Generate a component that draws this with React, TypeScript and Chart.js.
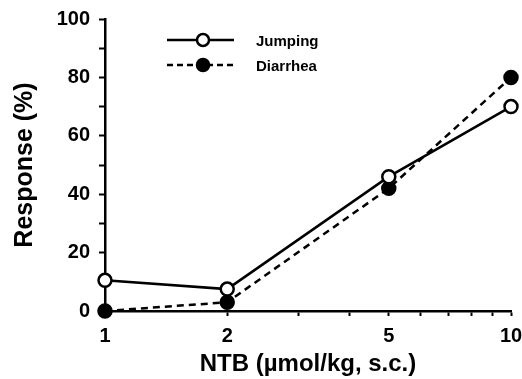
import React, { useEffect, useRef } from "react";
import { Chart, registerables } from "chart.js";

Chart.register(...registerables);

const doses = [1, 2, 5, 10];
const jumping = [10.5, 7.5, 46, 70];
const diarrhea = [0, 3, 42, 80];
const xTickValues = [1, 2, 3, 4, 5, 6, 7, 8, 9, 10];
const xTickLabels = [1, 2, 5, 10];
const yTickLabels = [0, 20, 40, 60, 80, 100];
const seriesNames = ["Jumping", "Diarrhea"];

const FONT = "'Liberation Sans', Arial, Helvetica, sans-serif";

const legendPlugin = {
  id: "customLegend",
  afterDraw(chart: any) {
    const ctx = chart.ctx;
    ctx.save();
    const items = [
      { name: seriesNames[0], y: 40, dash: [] as number[], fill: "#ffffff" },
      { name: seriesNames[1], y: 65, dash: [6, 4], fill: "#000000" },
    ];
    items.forEach((it) => {
      ctx.strokeStyle = "#000";
      ctx.lineWidth = 2.5;
      ctx.setLineDash(it.dash);
      ctx.beginPath();
      ctx.moveTo(167, it.y);
      ctx.lineTo(234, it.y);
      ctx.stroke();
      ctx.setLineDash([]);
      ctx.beginPath();
      ctx.arc(203, it.y, 6, 0, Math.PI * 2);
      ctx.fillStyle = it.fill;
      ctx.fill();
      ctx.lineWidth = 2.5;
      ctx.stroke();
      ctx.fillStyle = "#000";
      ctx.font = `bold 15px ${FONT}`;
      ctx.textBaseline = "middle";
      ctx.textAlign = "left";
      ctx.fillText(it.name, 256, it.y + 2);
    });
    ctx.restore();
  },
};

export default function App() {
  const ref = useRef<HTMLCanvasElement | null>(null);
  useEffect(() => {
    if (!ref.current) return;
    const chart = new Chart(ref.current, {
      type: "line",
      data: {
        datasets: [
          {
            label: seriesNames[0],
            data: doses.map((d, i) => ({ x: d, y: jumping[i] })),
            borderColor: "#000",
            borderWidth: 2.5,
            pointRadius: 6.5,
            pointBorderWidth: 2.5,
            pointBackgroundColor: "#fff",
            pointBorderColor: "#000",
            tension: 0,
            clip: false as any,
          },
          {
            label: seriesNames[1],
            data: doses.map((d, i) => ({ x: d, y: diarrhea[i] })),
            borderColor: "#000",
            borderWidth: 2.5,
            borderDash: [7, 5],
            pointRadius: 6.5,
            pointBorderWidth: 2.5,
            pointBackgroundColor: "#000",
            pointBorderColor: "#000",
            tension: 0,
            clip: false as any,
          },
        ],
      },
      options: {
        animation: false,
        responsive: false,
        layout: { padding: { left: 0, right: 11, top: 19, bottom: 0 } },
        plugins: { legend: { display: false }, tooltip: { enabled: false } },
        scales: {
          x: {
            type: "logarithmic",
            min: 1,
            max: 10,
            afterBuildTicks: (axis: any) => {
              axis.ticks = xTickValues.map((v) => ({ value: v }));
            },
            afterFit: (axis: any) => {
              axis.height = 68;
              axis.paddingLeft = 0;
              axis.paddingRight = 0;
            },
            ticks: {
              autoSkip: false,
              maxRotation: 0,
              color: "#000",
              font: { family: FONT, size: 20, weight: "bold" },
              padding: 8,
              callback: (v: any) => (xTickLabels.includes(Number(v)) ? String(v) : ""),
            },
            grid: {
              drawOnChartArea: false,
              drawTicks: true,
              tickLength: 5,
              tickWidth: 2,
              color: "#000",
            },
            border: { display: true, color: "#000", width: 2.5 },
            title: {
              display: true,
              text: "NTB (µmol/kg, s.c.)",
              color: "#000",
              font: { family: FONT, size: 24, weight: "bold" },
              padding: { top: 0, bottom: 0 },
            },
          },
          y: {
            min: 0,
            max: 100,
            afterBuildTicks: (axis: any) => {
              const t: any[] = [];
              for (let v = 0; v <= 100; v += 10) t.push({ value: v });
              axis.ticks = t;
            },
            afterFit: (axis: any) => {
              axis.width = 105;
              axis.paddingTop = 0;
              axis.paddingBottom = 0;
            },
            ticks: {
              autoSkip: false,
              color: "#000",
              font: { family: FONT, size: 20, weight: "bold" },
              padding: 9,
              callback: (v: any) => (yTickLabels.includes(Number(v)) ? String(v) : ""),
            },
            grid: {
              drawOnChartArea: false,
              drawTicks: true,
              tickLength: 6,
              tickWidth: 2,
              color: "#000",
            },
            border: { display: true, color: "#000", width: 2.5 },
            title: {
              display: true,
              text: "Response (%)",
              color: "#000",
              font: { family: FONT, size: 25, weight: "bold" },
              padding: { top: 10, bottom: 0 },
            },
          },
        },
      },
      plugins: [legendPlugin],
    });
    return () => chart.destroy();
  }, []);
  return (
    <div style={{ position: "fixed", left: 0, top: 0, width: 522, height: 379, background: "#fff" }}>
      <canvas ref={ref} width={522} height={379} style={{ width: 522, height: 379, display: "block" }} />
    </div>
  );
}
